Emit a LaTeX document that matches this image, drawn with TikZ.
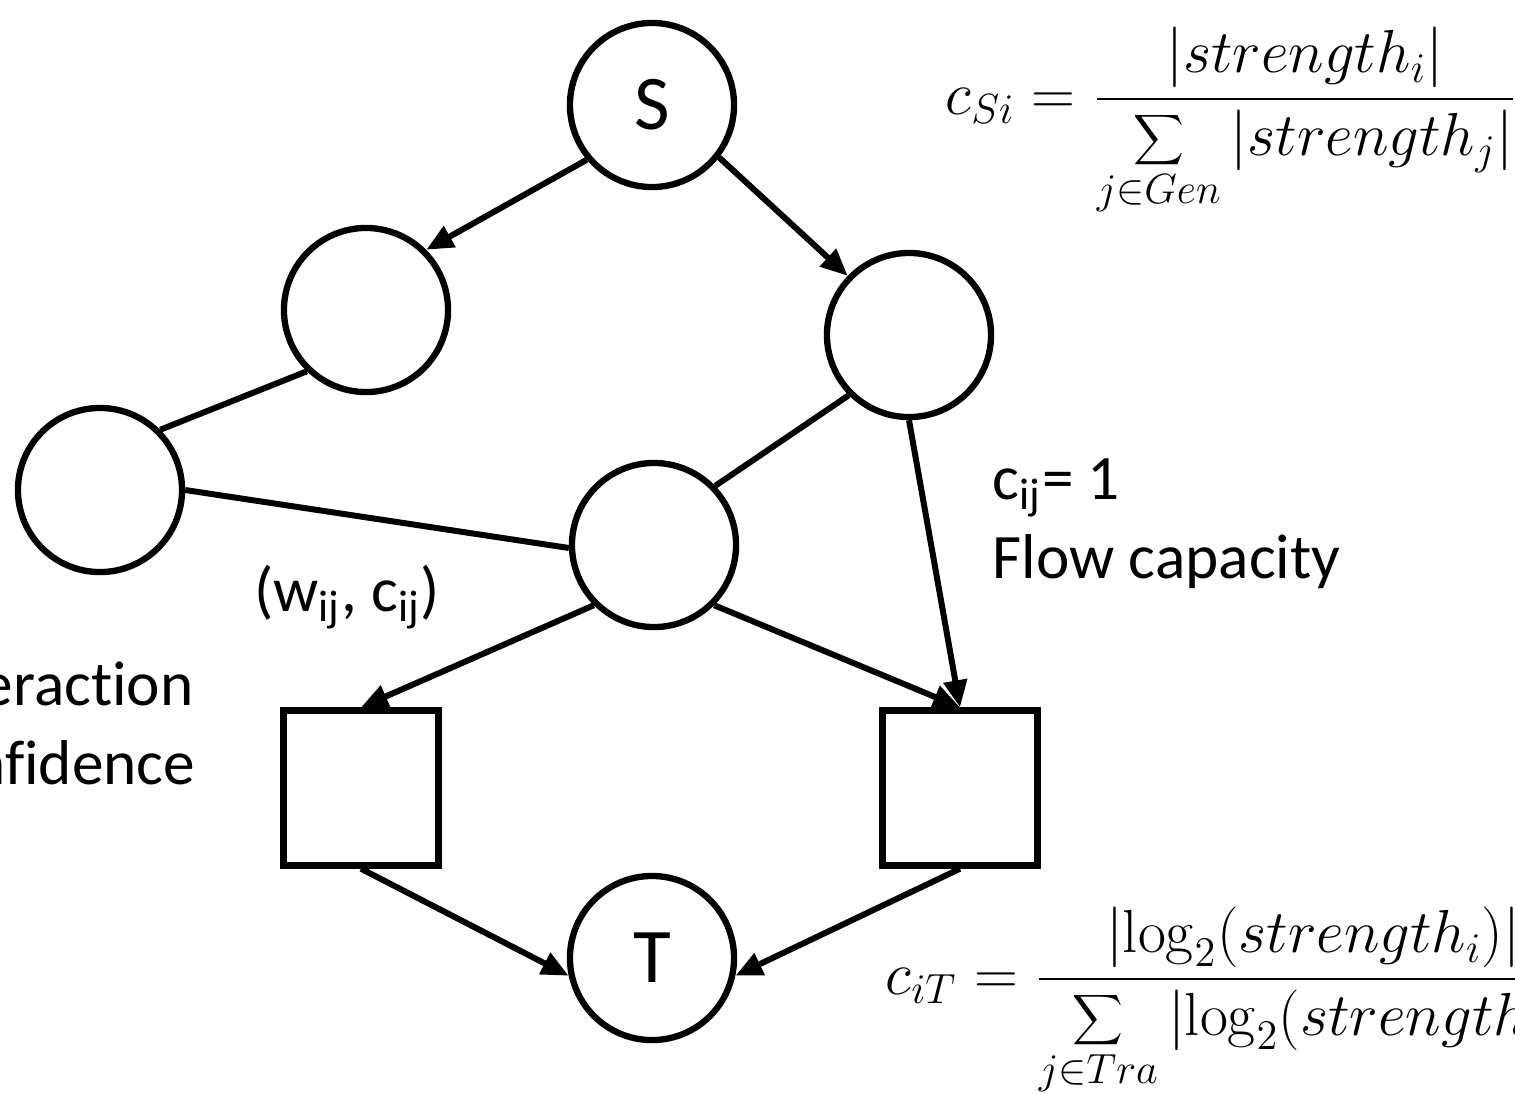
\documentclass[tikz,border=0pt]{standalone}
\usepackage[no-math]{fontspec}
\setmainfont{Carlito}[Ligatures=NoCommon]
\usetikzlibrary{arrows.meta}

\begin{document}
\begin{tikzpicture}[x=0.01cm,y=-0.01cm,
    vertex/.style={circle,draw,line width=1.8pt,minimum size=1.64cm,inner sep=0pt,font=\fontsize{22}{26}\selectfont},
    sinkbox/.style={rectangle,draw,line width=1.8pt,minimum size=1.55cm,inner sep=0pt},
    flow/.style={line width=1.7pt,-{Triangle[length=0.27cm,width=0.23cm]}},
    link/.style={line width=1.7pt},
    note/.style={font=\fontsize{18}{22.5}\selectfont,align=left,inner sep=0pt},
    formula/.style={font=\fontsize{18}{22}\selectfont,inner sep=0pt,anchor=base west}]

    \useasboundingbox (0,0) rectangle (1515,1093); %page size

    % source, inner vertices, sink
    \node[vertex] (S) at (652,105) {S};
    \node[vertex] (a) at (366,310) {};
    \node[vertex] (b) at (909,335) {};
    \node[vertex] (c) at (100,490) {};
    \node[vertex] (m) at (654,545) {};
    \node[sinkbox] (p) at (361,788) {};
    \node[sinkbox] (q) at (960,788) {};
    \node[vertex] (T) at (652,958) {T};

    % directed edges
    \draw[flow] (S.220) -- (a.45);
    \draw[flow] (S.-38) -- (b.136);
    \draw[flow] (b.south) -- (q.north);
    \draw[flow] (m.225) -- (p.north);
    \draw[flow] (m.-45) -- (q.north);
    \draw[flow] (p.south) -- (T.192);
    \draw[flow] (q.south) -- (T.348);

    % undirected edges
    \draw[link] (a.226) -- (c.45);
    \draw[link] (c.east) -- (m.182);
    \draw[link] (b.225) -- (m.44);

    % labels
    \node[note] (wc) at (347,597) {(w\textsubscript{ij}, c\textsubscript{ij})};
    \node[note,anchor=north west] (cap) at (992,458) {c\textsubscript{ij}= 1\\Flow capacity};
    \node[note,anchor=north west] (conf) at (-88,661) {Interaction\\confidence};

    % capacities of source and sink edges
    \node[formula] (cs) at (945,114)
      {$\displaystyle c_{Si} = \frac{\left|strength_i\right|}{\displaystyle\sum_{j\in Gen}\left|strength_j\right|}$};
    \node[formula] (ct) at (885,994)
      {$\displaystyle c_{iT} = \frac{\left|\log_2(strength_i)\right|}{\displaystyle\sum_{j\in Tra}\left|\log_2(strength_j)\right|}$};
\end{tikzpicture}
\end{document}
